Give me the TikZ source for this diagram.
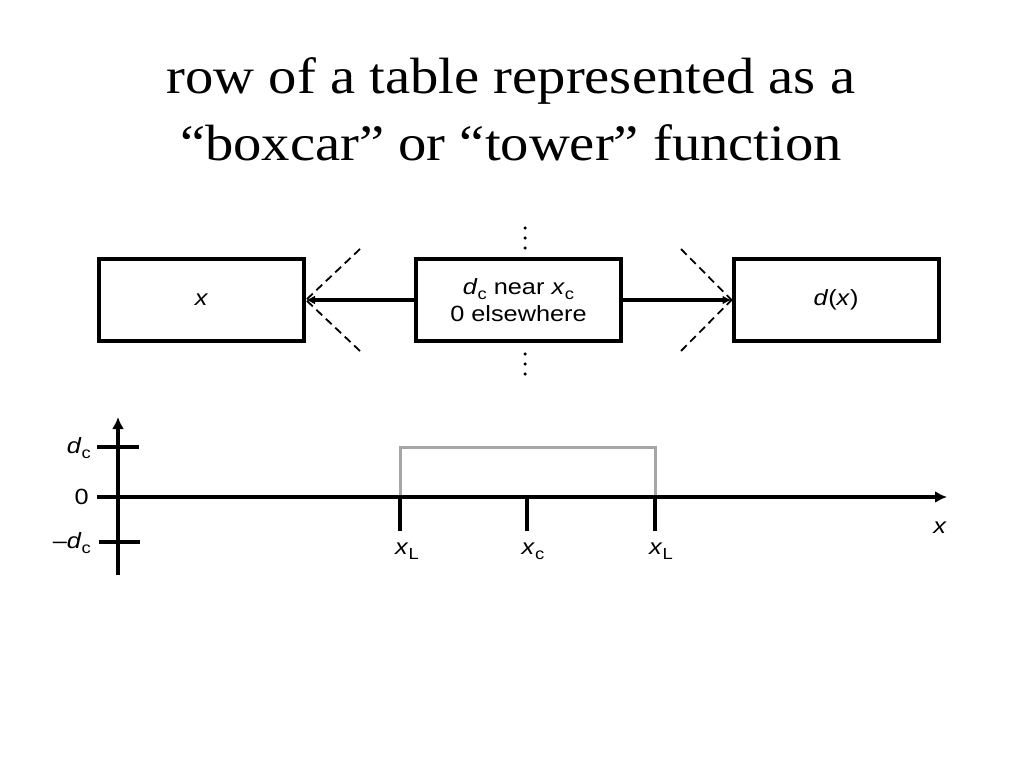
\documentclass[tikz,border=0pt]{standalone}
\usepackage{fontspec}
\setmainfont{Liberation Serif}[FakeStretch=1.11]
\newfontfamily\labfont{Liberation Sans}[FakeStretch=1.15]
\usetikzlibrary{arrows.meta}
\newcommand{\sbs}[1]{\raisebox{-0.45ex}{\fontsize{16}{16}\selectfont #1}}
\newcommand{\vx}{\textit{x}}
\newcommand{\vd}{\textit{d}}
\tikzset{
  box/.style={draw, line width=4pt, minimum width=205pt, minimum height=82pt, inner sep=0pt, font=\labfont\fontsize{22}{27}\selectfont, align=center},
  conn/.style={line width=4pt, -{Latex[length=9pt,width=9pt]}},
  dashv/.style={line width=1.8pt, dash pattern=on 8pt off 5pt},
  axis/.style={line width=4pt, -{Latex[length=12pt,width=12pt]}},
  tick/.style={line width=4.5pt},
  tower/.style={line width=3pt, draw=black!35},
  lab/.style={font=\labfont\fontsize{22}{25}\selectfont, inner sep=0pt},
  title/.style={font=\fontsize{51}{67}\selectfont, inner sep=0pt, anchor=base},
  dot/.style={fill=black, circle, inner sep=0pt, minimum size=3.5pt}
}
\begin{document}
\begin{tikzpicture}[x=1pt, y=-1pt]
\useasboundingbox (0,0) rectangle (1024,768);
% title
\node[title] (t1) at (511,93) {row of a table represented as a};
\node[title] (t2) at (511,160) {``boxcar'' or ``tower'' function};
% boxes
\node[box] (bx) at (201.5,300) {\vx};
\node[box] (bm) at (518.5,300) {\vd\sbs{c} near \vx\sbs{c}\\0 elsewhere};
\node[box] (bd) at (836,300) {\vd(\vx)};
% arrows
\draw[conn] (bm.west) -- (bx.east);
\draw[conn] (bm.east) -- (bd.west);
\coordinate (lu) at (360,249);
\coordinate (ll) at (360,351);
\coordinate (ru) at (681,249);
\coordinate (rl) at (681,351);
\draw[dashv] (lu) -- (bx.east);
\draw[dashv] (ll) -- (bx.east);
\draw[dashv] (ru) -- (bd.west);
\draw[dashv] (rl) -- (bd.west);
% dots
\node[dot] (a1) at (525,228) {};
\node[dot] (a2) at (525,238) {};
\node[dot] (a3) at (525,248) {};
\node[dot] (b1) at (525,354) {};
\node[dot] (b2) at (525,364) {};
\node[dot] (b3) at (525,374) {};
% axes
\coordinate (y0) at (118,575);
\coordinate (y1) at (118,417);
\coordinate (x0) at (97,497);
\coordinate (x1) at (947,497);
\draw[tower] (400,497) -- (400,447) -- (655,447) -- (655,497);
\draw[axis] (y0) -- (y1);
\draw[axis] (x0) -- (x1);
\draw[tick] (97,447) -- (139,447);
\draw[tick] (99,542) -- (140,542);
\draw[tick] (400,497) -- (400,531);
\draw[tick] (527,497) -- (527,531);
\draw[tick] (655,497) -- (655,531);
% labels
\node[lab, anchor=east] (ldc) at (91,448) {\vd\sbs{c}};
\node[lab, anchor=east] (l0) at (89,497) {0};
\node[lab, anchor=east] (lmdc) at (91,543) {\textendash\vd\sbs{c}};
\node[lab] (lxl) at (407,551) {\vx\sbs{L}};
\node[lab] (lxc) at (533,551) {\vx\sbs{c}};
\node[lab] (lxr) at (661,551) {\vx\sbs{L}};
\node[lab] (lx) at (940,528) {\vx};
\end{tikzpicture}
\end{document}
